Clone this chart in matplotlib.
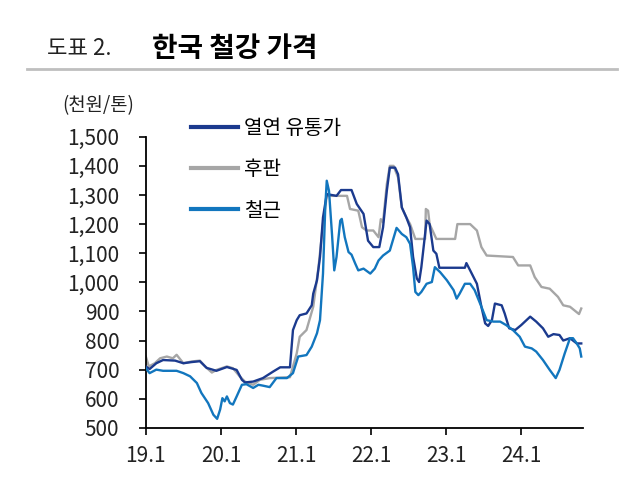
import matplotlib
matplotlib.use("Agg")
import matplotlib.pyplot as plt
from matplotlib.lines import Line2D

plt.rcParams['font.family'] = ['Noto Sans CJK KR', 'DejaVu Sans']

# 열연 유통가 (hot-rolled coil distribution price), 천원/톤
hrc_t = [2019.00, 2019.05, 2019.14, 2019.23, 2019.39, 2019.50, 2019.61, 2019.72, 2019.81,
         2019.94, 2020.08, 2020.16, 2020.21, 2020.28, 2020.32, 2020.43, 2020.56, 2020.70,
         2020.79, 2020.92, 2020.96, 2021.01, 2021.05, 2021.14, 2021.21, 2021.23, 2021.28,
         2021.32, 2021.36, 2021.41, 2021.54, 2021.60, 2021.74, 2021.81, 2021.90, 2021.96,
         2022.03, 2022.11, 2022.16, 2022.21, 2022.25, 2022.32, 2022.36, 2022.41, 2022.47,
         2022.52, 2022.56, 2022.61, 2022.64, 2022.67, 2022.71, 2022.74, 2022.78, 2022.83,
         2022.87, 2022.91, 2023.25, 2023.27, 2023.32, 2023.41, 2023.47, 2023.52, 2023.56,
         2023.61, 2023.65, 2023.74, 2023.78, 2023.84, 2023.92, 2024.00, 2024.12, 2024.20,
         2024.29, 2024.36, 2024.43, 2024.51, 2024.56, 2024.65, 2024.74, 2024.80]
hrc_v = [711, 702, 722, 733, 731, 722, 726, 729, 706,
         696, 709, 703, 699, 665, 656, 659, 671, 694,
         708, 708, 836, 870, 887, 893, 921, 961, 1007,
         1087, 1223, 1303, 1297, 1317, 1317, 1269, 1235, 1143,
         1121, 1121, 1189, 1314, 1394, 1394, 1371, 1257, 1223,
         1189, 1087, 1013, 1001, 1052, 1143, 1212, 1200, 1109,
         1098, 1050, 1050, 1066, 1041, 995, 916, 859, 850,
         870, 927, 921, 893, 842, 836, 853, 882, 865,
         842, 813, 822, 819, 800, 808, 790, 790]

# 후판 (plate)
plate_t = [2019.00, 2019.04, 2019.12, 2019.19, 2019.28, 2019.36, 2019.41, 2019.50, 2019.61,
           2019.72, 2019.79, 2019.88, 2019.94, 2020.08, 2020.16, 2020.25, 2020.32, 2020.43,
           2020.52, 2020.65, 2020.92, 2021.01, 2021.05, 2021.14, 2021.23, 2021.30, 2021.36,
           2021.41, 2021.68, 2021.72, 2021.83, 2021.88, 2021.94, 2022.03, 2022.10, 2022.13,
           2022.16, 2022.21, 2022.25, 2022.30, 2022.36, 2022.41, 2022.47, 2022.52, 2022.59,
           2022.72, 2022.73, 2022.76, 2022.78, 2022.87, 2023.12, 2023.15, 2023.32, 2023.41,
           2023.47, 2023.54, 2023.89, 2023.96, 2024.12, 2024.18, 2024.27, 2024.38, 2024.49,
           2024.56, 2024.65, 2024.77, 2024.80]
plate_v = [745, 711, 722, 739, 745, 739, 751, 722, 728,
           731, 711, 690, 699, 711, 705, 677, 659, 648,
           665, 671, 674, 756, 813, 836, 916, 1052, 1200,
           1297, 1297, 1252, 1246, 1189, 1178, 1178, 1155, 1217,
           1206, 1337, 1400, 1400, 1360, 1257, 1223, 1200, 1149,
           1149, 1252, 1246, 1200, 1149, 1149, 1200, 1200, 1178,
           1121, 1092, 1087, 1058, 1058, 1018, 984, 978, 950,
           921, 916, 891, 910]

# 철근 (rebar)
rebar_t = [2019.00, 2019.05, 2019.14, 2019.23, 2019.41, 2019.50, 2019.59, 2019.68, 2019.74,
           2019.83, 2019.90, 2019.95, 2019.99, 2020.02, 2020.05, 2020.08, 2020.12, 2020.16,
           2020.21, 2020.28, 2020.34, 2020.43, 2020.50, 2020.56, 2020.65, 2020.74, 2020.88,
           2020.96, 2021.03, 2021.14, 2021.21, 2021.28, 2021.32, 2021.36, 2021.39, 2021.41,
           2021.44, 2021.48, 2021.51, 2021.54, 2021.59, 2021.61, 2021.65, 2021.70, 2021.74,
           2021.79, 2021.83, 2021.90, 2021.99, 2022.05, 2022.10, 2022.16, 2022.25, 2022.34,
           2022.41, 2022.47, 2022.52, 2022.56, 2022.59, 2022.63, 2022.67, 2022.74, 2022.81,
           2022.85, 2022.92, 2023.01, 2023.10, 2023.14, 2023.18, 2023.25, 2023.32, 2023.38,
           2023.47, 2023.54, 2023.63, 2023.72, 2023.80, 2023.89, 2023.98, 2024.05, 2024.14,
           2024.20, 2024.29, 2024.38, 2024.46, 2024.51, 2024.58, 2024.65, 2024.69, 2024.74,
           2024.78, 2024.80]
rebar_v = [705, 688, 700, 696, 696, 688, 677, 654, 620,
           585, 545, 531, 563, 602, 591, 608, 585, 580,
           608, 648, 650, 637, 648, 645, 640, 671, 671,
           688, 745, 750, 779, 825, 870, 1030, 1257, 1349,
           1314, 1165, 1041, 1087, 1212, 1218, 1155, 1104, 1095,
           1064, 1041, 1047, 1030, 1047, 1075, 1092, 1109, 1187,
           1166, 1155, 1132, 1052, 967, 956, 967, 995, 1001,
           1052, 1035, 1007, 973, 944, 961, 995, 995, 973,
           916, 870, 865, 865, 853, 836, 813, 779, 773,
           762, 733, 699, 671, 699, 756, 808, 808, 790,
           773, 745]

years = [2019, 2020, 2021, 2022, 2023, 2024]
year_labels = ['19.1', '20.1', '21.1', '22.1', '23.1', '24.1']
y_ticks = list(range(500, 1501, 100))

fig = plt.figure(figsize=(6.34, 5.01), dpi=100)
ax = fig.add_axes([0.230, 0.146, 0.690, 0.581])

ax.plot(hrc_t, hrc_v, color='#1B3A8E', lw=1.7, label='열연 유통가', zorder=3)
ax.plot(plate_t, plate_v, color='#A6A6A6', lw=1.7, label='후판', zorder=2)
ax.plot(rebar_t, rebar_v, color='#1276BE', lw=1.7, label='철근', zorder=4)

ax.set_xlim(2019, 2024.827)
ax.set_ylim(500, 1500)
ax.set_xticks(years)
ax.set_xticklabels(year_labels)
ax.set_yticks(y_ticks)
ax.set_yticklabels([f'{v:,}' for v in y_ticks])

for s in ['top', 'right']:
    ax.spines[s].set_visible(False)
for s in ['left', 'bottom']:
    ax.spines[s].set_linewidth(1.3)
    ax.spines[s].set_color('black')
ax.tick_params(axis='y', length=5, width=1.2, direction='out', pad=14,
               labelsize=15, labelcolor='#222222')
ax.tick_params(axis='x', length=5, width=1.2, direction='out', pad=7,
               labelsize=15, labelcolor='#222222')

# legend (manual handles so line thickness matches)
handles = [Line2D([], [], color='#1B3A8E', lw=3),
           Line2D([], [], color='#A6A6A6', lw=3),
           Line2D([], [], color='#1276BE', lw=3)]
fig.legend(handles, ['열연 유통가', '후판', '철근'], loc='upper left',
           bbox_to_anchor=(0.302, 0.764), frameon=False, fontsize=14.5,
           handlelength=2.3, handletextpad=0.3, labelspacing=1.0,
           borderpad=0, borderaxespad=0)

# header
fig.text(0.074, 0.903, '도표 2.', fontsize=16, color='#222222', va='center')
fig.text(0.240, 0.903, '한국 철강 가격', fontsize=20, fontweight='bold',
         color='black', va='center')
fig.add_artist(Line2D([0.043, 0.973], [0.862, 0.862], color='#BFBFBF', lw=2))
fig.text(0.098, 0.790, '(천원/톤)', fontsize=13.5, color='#222222', va='center')

fig.savefig('out.png', dpi=100)
